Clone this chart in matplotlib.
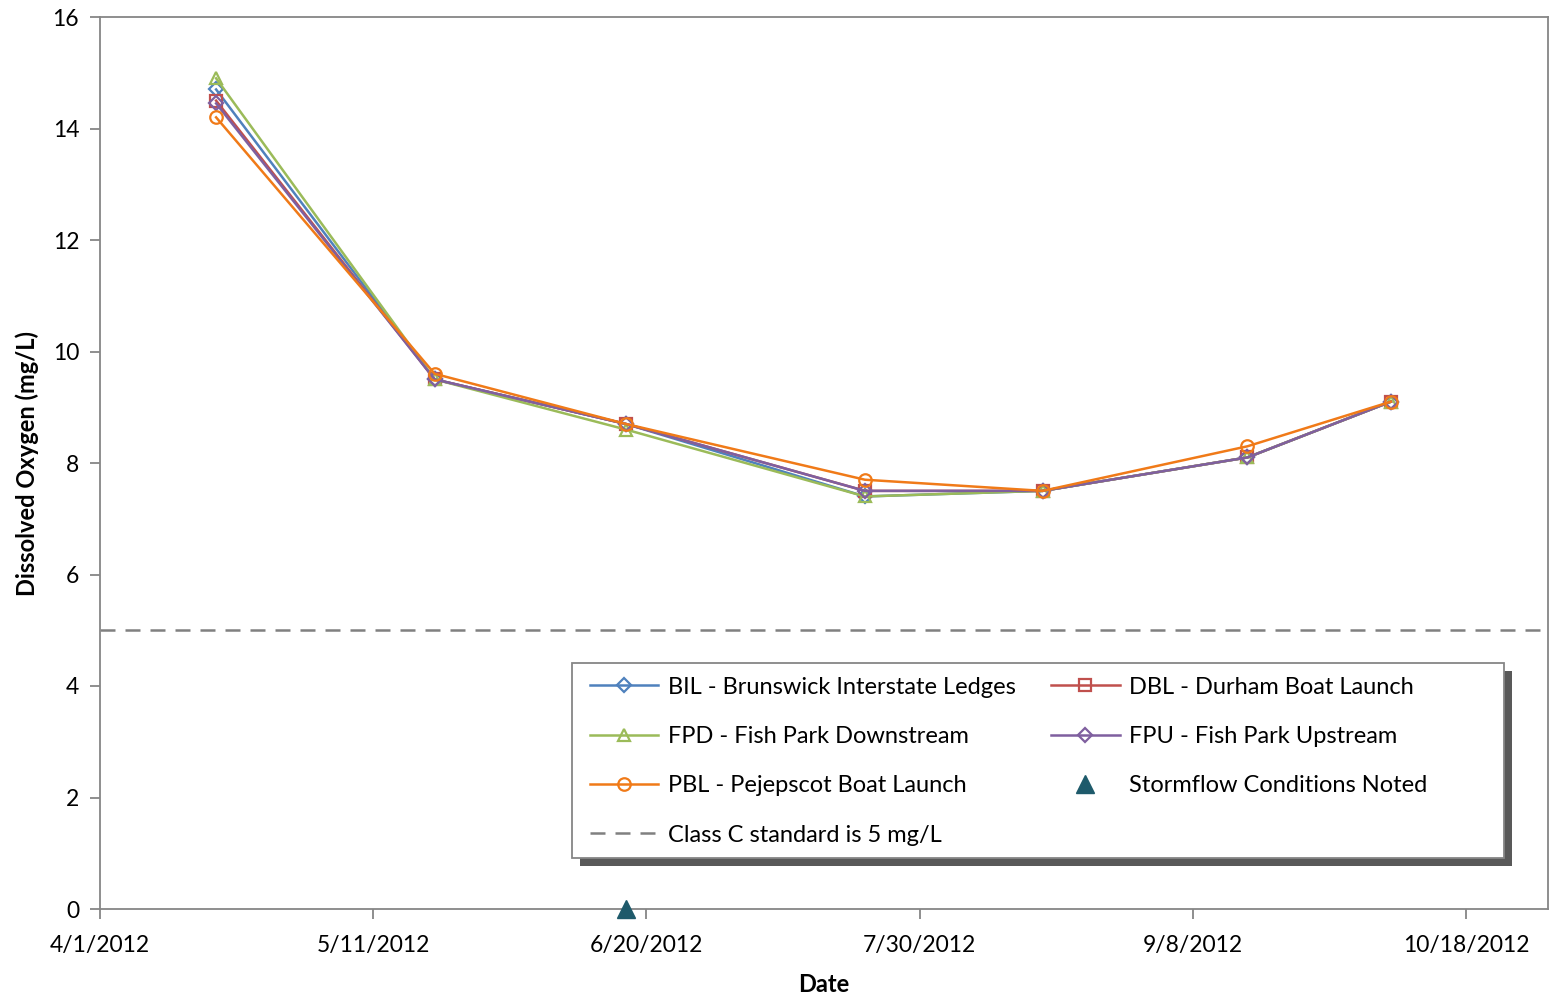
import datetime as dt
import matplotlib
matplotlib.use("Agg")
import matplotlib.pyplot as plt
from matplotlib.patches import Rectangle

plt.rcParams['font.family'] = ['Lato', 'DejaVu Sans']

# sampling dates
dates = [dt.date(2012, 4, 18), dt.date(2012, 5, 20), dt.date(2012, 6, 17),
         dt.date(2012, 7, 22), dt.date(2012, 8, 17), dt.date(2012, 9, 16),
         dt.date(2012, 10, 7)]

bil = [14.7, 9.5, 8.7, 7.4, 7.5, 8.1, 9.1]
dbl = [14.5, 9.5, 8.7, 7.5, 7.5, 8.1, 9.1]
fpd = [14.9, 9.5, 8.6, 7.4, 7.5, 8.1, 9.1]
fpu = [14.45, 9.5, 8.7, 7.5, 7.5, 8.1, 9.1]
pbl = [14.2, 9.6, 8.7, 7.7, 7.5, 8.3, 9.1]

storm_dates = [dt.date(2012, 6, 17)]
storm_vals = [0]

standard = 5

tick_dates = [dt.date(2012, 4, 1), dt.date(2012, 5, 11), dt.date(2012, 6, 20),
              dt.date(2012, 7, 30), dt.date(2012, 9, 8), dt.date(2012, 10, 18)]
tick_labels = ['4/1/2012', '5/11/2012', '6/20/2012', '7/30/2012', '9/8/2012', '10/18/2012']

fig = plt.figure(figsize=(15.49, 9.99), dpi=100)
ax = fig.add_axes([100/1549, 1 - 909/999, 1448/1549, 892/999])

kw = dict(lw=1.8, ms=9, mew=1.6, mfc='none')
l1, = ax.plot(dates, bil, color='#4F81BD', marker='D', label='BIL - Brunswick Interstate Ledges', **{**kw, 'ms': 7})
l2, = ax.plot(dates, dbl, color='#C0504D', marker='s', label='DBL - Durham Boat Launch', **kw)
l3, = ax.plot(dates, fpd, color='#9BBB59', marker='^', label='FPD - Fish Park Downstream', **kw)
l4, = ax.plot(dates, fpu, color='#7F5F9F', marker='D', label='FPU - Fish Park Upstream', **{**kw, 'ms': 7})
l5, = ax.plot(dates, pbl, color='#F07A18', marker='o', label='PBL - Pejepscot Boat Launch', **kw)
l6, = ax.plot(storm_dates, storm_vals, ls='none', marker='^', ms=13, color='#1E5A6B',
              clip_on=False, zorder=5, label='Stormflow Conditions Noted')
l7 = ax.axhline(standard, color='#808080', lw=1.8, ls=(0, (6, 4)), label='Class C standard is 5 mg/L')

ax.set_xlim(dt.date(2012, 4, 1), dt.date(2012, 10, 30))
ax.set_ylim(0, 16)
ax.set_yticks(range(0, 17, 2))
ax.set_xticks(tick_dates)
ax.set_xticklabels(tick_labels)

for s in ax.spines.values():
    s.set_color('#868686')
    s.set_linewidth(1.3)
ax.tick_params(axis='both', colors='#868686', labelcolor='black', labelsize=16.5,
               length=7, width=1.3)
ax.tick_params(axis='x', pad=12)
ax.tick_params(axis='y', pad=8)

ax.set_xlabel('Date', fontsize=17, fontweight='bold', labelpad=12)
ax.set_ylabel('Dissolved Oxygen (mg/L)', fontsize=17, fontweight='bold', labelpad=10)

# legend box with drop shadow (axes coords)
bx, by, bw, bh = 0.326, 0.057, 0.6436, 0.2188
ax.add_patch(Rectangle((bx + 8/1448, by - 8/892), bw, bh, transform=ax.transAxes,
                       facecolor='#595959', edgecolor='none', zorder=8, clip_on=False))
ax.add_patch(Rectangle((bx, by), bw, bh, transform=ax.transAxes, facecolor='white',
                       edgecolor='#868686', lw=1.3, zorder=9, clip_on=False))

handles = [l1, l3, l5, l7, l2, l4, l6]
leg = ax.legend(handles=handles, labels=[h.get_label() for h in handles], ncol=2,
                loc='upper left', bbox_to_anchor=(0.3384, 0.2605), fontsize=17,
                frameon=False, borderpad=0, borderaxespad=0,
                handlelength=2.9, handletextpad=0.4, labelspacing=1.2,
                columnspacing=1.5)
leg.set_zorder(10)

fig.savefig('out.png', dpi=100)
